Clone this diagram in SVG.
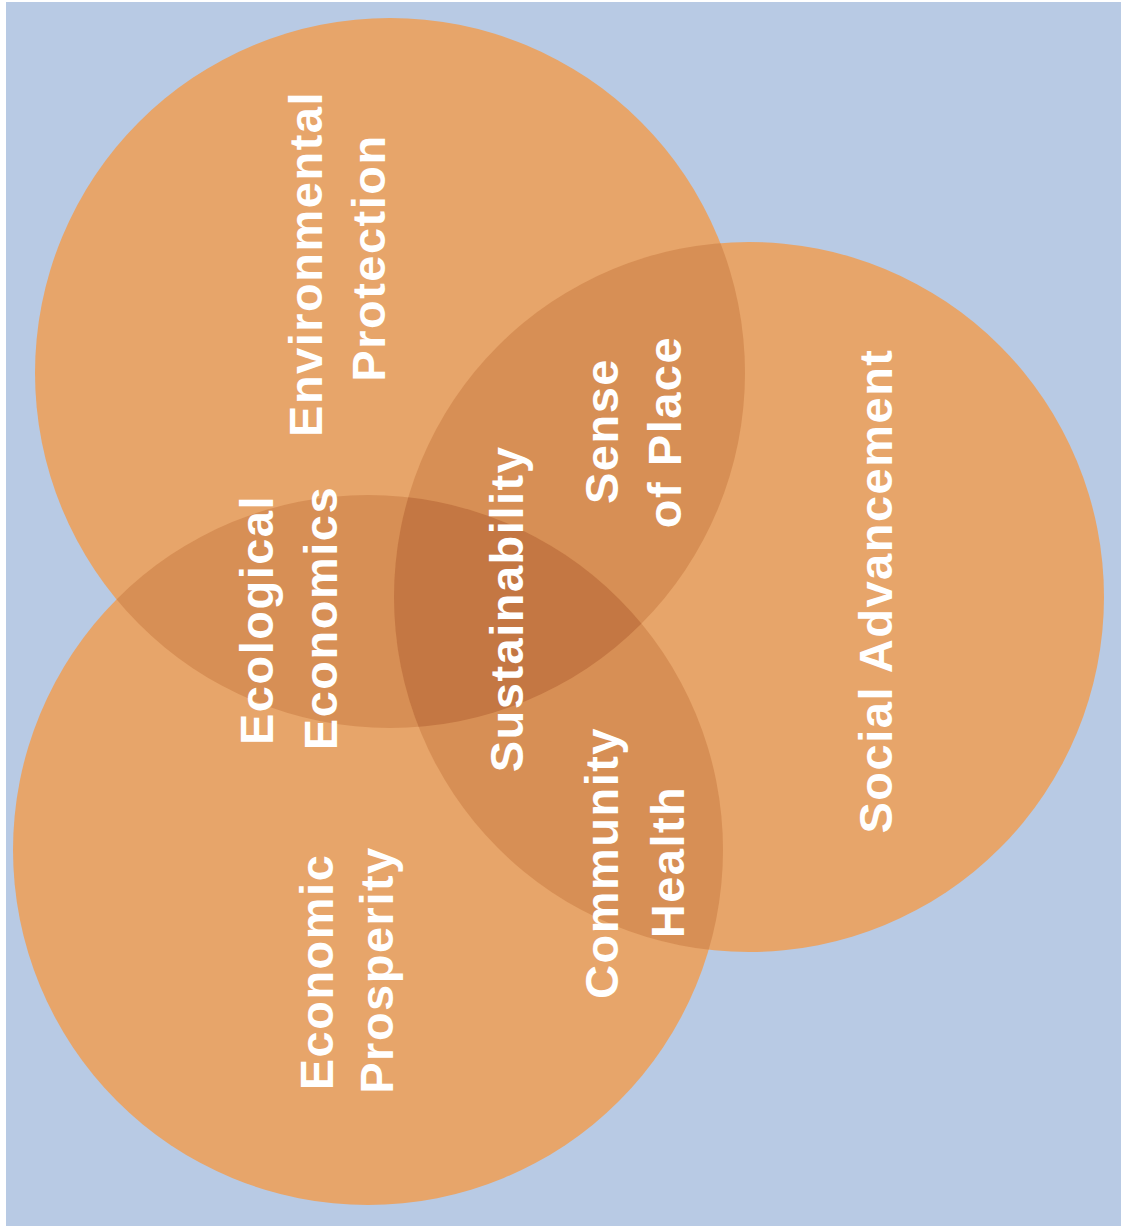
<svg xmlns="http://www.w3.org/2000/svg" width="1128" height="1232" viewBox="0 0 1128 1232">
  <style>
    .circle { fill: #e7a56a; }
    .pair { fill: #d78f55; }
    .triple { fill: #c47743; }
    .label { font-family: "Liberation Sans", Arial, Helvetica, sans-serif; font-weight: bold; font-size: 47px; letter-spacing: 1.5px; fill: #ffffff; text-anchor: middle; }
  </style>
  <defs>
    <clipPath id="clipA"><circle cx="390" cy="373" r="355"/></clipPath>
    <clipPath id="clipB"><circle cx="368" cy="850" r="355"/></clipPath>
    <clipPath id="clipC"><circle cx="749" cy="597" r="355"/></clipPath>
  </defs>

  <rect x="0" y="0" width="1128" height="1232" fill="#ffffff"/>
  <rect x="6" y="2" width="1115" height="1224" fill="#b8cae4"/>

  <g id="environmental-protection">
    <circle class="circle" cx="390" cy="373" r="355"/>
  </g>
  <g id="economic-prosperity">
    <circle class="circle" cx="368" cy="850" r="355"/>
  </g>
  <g id="social-advancement">
    <circle class="circle" cx="749" cy="597" r="355"/>
  </g>

  <g id="overlaps">
    <circle id="ecological-economics-region" class="pair" cx="390" cy="373" r="355" clip-path="url(#clipB)"/>
    <circle id="sense-of-place-region" class="pair" cx="390" cy="373" r="355" clip-path="url(#clipC)"/>
    <circle id="community-health-region" class="pair" cx="368" cy="850" r="355" clip-path="url(#clipC)"/>
    <g id="sustainability-region" clip-path="url(#clipC)">
      <circle class="triple" cx="390" cy="373" r="355" clip-path="url(#clipB)"/>
    </g>
  </g>

  <g id="labels">
    <g id="label-environmental-protection">
      <text class="label" transform="translate(322,264) rotate(-90)">Environmental</text>
      <text class="label" transform="translate(385,258) rotate(-90)">Protection</text>
    </g>
    <g id="label-ecological-economics">
      <text class="label" transform="translate(273,620) rotate(-90)">Ecological</text>
      <text class="label" transform="translate(337,618) rotate(-90)">Economics</text>
    </g>
    <g id="label-sustainability">
      <text class="label" transform="translate(523,609) rotate(-90)">Sustainability</text>
    </g>
    <g id="label-sense-of-place">
      <text class="label" transform="translate(618,431) rotate(-90)">Sense</text>
      <text class="label" transform="translate(681,432) rotate(-90)">of Place</text>
    </g>
    <g id="label-community-health">
      <text class="label" transform="translate(618,863) rotate(-90)">Community</text>
      <text class="label" transform="translate(684,862) rotate(-90)">Health</text>
    </g>
    <g id="label-economic-prosperity">
      <text class="label" transform="translate(333,972) rotate(-90)">Economic</text>
      <text class="label" transform="translate(393,970) rotate(-90)">Prosperity</text>
    </g>
    <g id="label-social-advancement">
      <text class="label" transform="translate(892,591) rotate(-90)">Social Advancement</text>
    </g>
  </g>
</svg>
